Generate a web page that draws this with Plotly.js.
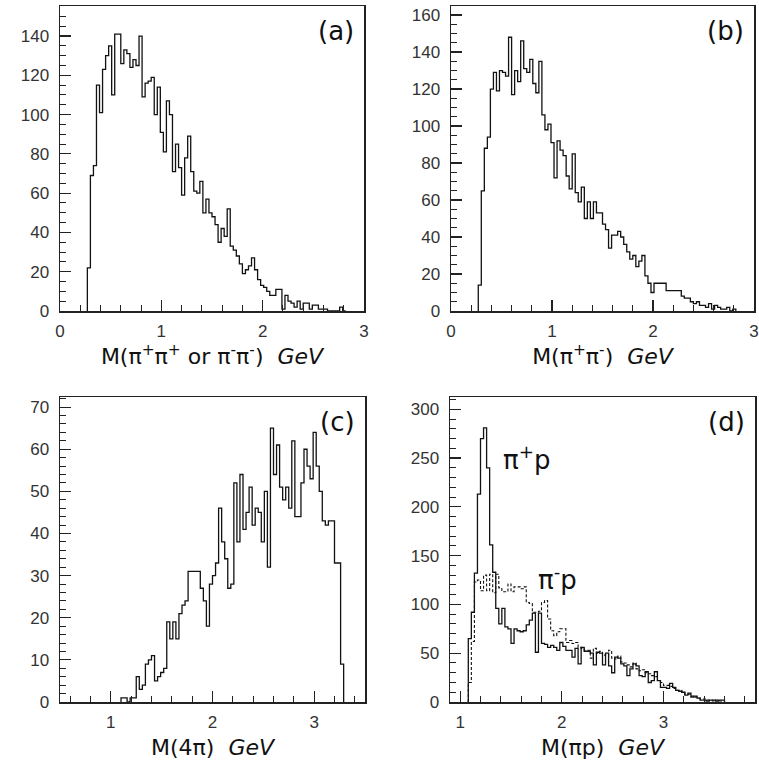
<!DOCTYPE html>
<html>
<head>
<meta charset="utf-8">
<script src="https://cdn.plot.ly/plotly-3.0.1.min.js"></script>
<style>html,body{margin:0;padding:0;background:#fff}#chart{width:759px;height:766px}</style>
</head>
<body>
<div id="chart"></div>
<script>
// ---- data: histogram bin width (GeV) and counts per bin ----
const binWidth = 0.03;

// (a) M(pi+pi+ or pi-pi-)
const aStart = 0.27;
const aCounts = [22,69,74,115,101,123,130,135,110,141,141,126,133,131,124,128,125,140,109,116,
  117,119,100,114,91,81,107,100,71,85,73,59,78,89,71,61,60,66,50,57,
  50,48,44,35,42,38,52,33,31,28,24,19,21,23,27,21,16,13,12,10,
  8,8,11,11,1,8,5,4,2,5,1,4,4,1,3,3,1,1,1,0,
  0,0,0,2,0];

// (b) M(pi+pi-)
const bStart = 0.27;
const bCounts = [14,65,88,94,120,129,119,130,129,127,148,117,130,124,146,131,129,136,123,118,
  135,106,98,101,91,72,92,87,84,73,66,85,64,59,67,50,59,50,59,53,
  53,47,44,34,41,41,43,40,36,32,28,30,24,27,30,19,15,10,15,15,
  15,15,11,11,11,11,11,8,7,7,5,4,5,3,3,2,4,1,3,2,
  1,1,2,0,1];

// (c) M(4pi)
const cStart = 1.10;
const cCounts = [1,1,0,1,1,6,3,4,9,10,11,5,6,7,8,19,15,19,15,21,
  23,24,31,31,31,31,27,24,18,28,30,33,46,38,34,27,28,52,38,54,
  41,45,51,42,46,45,38,50,32,65,54,61,51,48,51,46,62,44,44,52,
  60,56,53,64,56,50,43,42,43,43,33,33,9];

// (d) M(pi p): pi+ p (solid) and pi- p (dashed)
const dStart = 1.08;
const dPipCounts = [65,92,132,213,270,281,240,161,133,96,80,96,77,75,60,75,73,72,73,79,
  84,91,51,91,60,59,56,58,56,53,61,57,53,53,46,55,39,56,52,52,
  50,38,51,50,38,50,37,30,46,45,39,37,27,34,39,37,27,26,31,20,
  22,31,22,15,15,14,19,15,12,11,10,7,9,5,6,4,2,2,1,2,
  2,1,2,2];
const dPimCounts = [20,62,123,125,114,130,114,131,112,131,117,113,113,121,113,118,118,116,118,102,
  101,92,92,93,102,104,85,73,68,72,75,75,61,63,60,61,56,55,53,53,
  45,55,50,52,48,47,53,45,44,47,41,40,38,36,40,34,32,33,30,29,
  27,26,22,20,17,17,16,14,12,12,10,8,8,6,5,4,3,3,2,2,
  1,2,1,1];

const panelLabels = ['(a)','(b)','(c)','(d)'];
const xTitles = [
  'M(π<sup>+</sup>π<sup>+</sup> or π<sup>-</sup>π<sup>-</sup>)  <i>GeV</i>',
  'M(π<sup>+</sup>π<sup>-</sup>)  <i>GeV</i>',
  'M(4π)  <i>GeV</i>',
  'M(πp)  <i>GeV</i>'
];
const seriesNames = ['π<sup>+</sup>p', 'π<sup>-</sup>p'];

// ---- build step outlines from bins ----
function steps(start, counts) {
  const x = [start], y = [0];
  counts.forEach((c, i) => { x.push(start + i * binWidth); y.push(c); });
  x.push(start + counts.length * binWidth); y.push(0);
  return {x, y};
}

const lineStyle = {color: '#111', width: 1.3, shape: 'hv'};
function trace(start, counts, xa, ya, dash) {
  const s = steps(start, counts);
  return {type: 'scatter', mode: 'lines', x: s.x, y: s.y, xaxis: xa, yaxis: ya,
    line: Object.assign({}, lineStyle, dash ? {dash: '3px,2px', width: 1.1} : {}),
    hoverinfo: 'skip', showlegend: false};
}

const data = [
  trace(aStart, aCounts, 'x', 'y'),
  trace(bStart, bCounts, 'x2', 'y2'),
  trace(cStart, cCounts, 'x3', 'y3'),
  trace(dStart, dPimCounts, 'x4', 'y4', true),
  trace(dStart, dPipCounts, 'x4', 'y4')
];

const W = 759, H = 766;
const tickFont = {family: 'Liberation Sans, Arial, sans-serif', size: 17, color: '#333'};
const titleFont = {family: 'DejaVu Sans, sans-serif', size: 22, color: '#111'};
const labelFont = {family: 'DejaVu Sans, sans-serif', size: 26, color: '#111'};

function xax(px0, px1, range, anchor) {
  return {domain: [px0 / W, px1 / W], range: range, anchor: anchor,
    showline: true, mirror: true, linecolor: '#222', linewidth: 1.5,
    ticks: 'inside', ticklen: 11, tickwidth: 1.2, tickcolor: '#222', dtick: 1, tick0: 0,
    minor: {dtick: 0.2, tick0: 0, ticks: 'inside', ticklen: 6, tickwidth: 1, tickcolor: '#222'},
    showgrid: false, zeroline: false, tickfont: tickFont, ticklabelstandoff: 4};
}
function yax(py0, py1, range, dtick, minor, anchor) {
  return {domain: [1 - py1 / H, 1 - py0 / H], range: range, anchor: anchor,
    showline: true, mirror: true, linecolor: '#222', linewidth: 1.5,
    ticks: 'inside', ticklen: 11, tickwidth: 1.2, tickcolor: '#222', dtick: dtick, tick0: 0,
    minor: {dtick: minor, tick0: 0, ticks: 'inside', ticklen: 6, tickwidth: 1, tickcolor: '#222'},
    showgrid: false, zeroline: false, tickfont: tickFont, ticklabelstandoff: 6};
}

function panelLabel(i, xa, ya) {
  return {xref: xa + ' domain', yref: ya + ' domain', x: 0.975, y: 0.975, xanchor: 'right', yanchor: 'top',
    text: panelLabels[i], showarrow: false, font: labelFont};
}

const layout = {
  width: W, height: H, margin: {l: 0, r: 0, t: 0, b: 0},
  paper_bgcolor: '#fff', plot_bgcolor: '#fff', showlegend: false,
  xaxis: Object.assign(xax(60, 364, [0, 3], 'y'), {title: {text: xTitles[0], font: titleFont, standoff: 8}}),
  yaxis: yax(6, 311, [0, 155.3], 20, 5, 'x'),
  xaxis2: Object.assign(xax(451, 754, [0, 3], 'y2'), {title: {text: xTitles[1], font: titleFont, standoff: 8}}),
  yaxis2: yax(6, 311, [0, 164.9], 20, 5, 'x2'),
  xaxis3: Object.assign(xax(60, 365, [0.5, 3.5], 'y3'), {title: {text: xTitles[2], font: titleFont, standoff: 8}}),
  yaxis3: yax(397, 702, [0, 72.4], 10, 2, 'x3'),
  xaxis4: Object.assign(xax(450, 755, [0.9, 3.9], 'y4'), {title: {text: xTitles[3], font: titleFont, standoff: 8}}),
  yaxis4: yax(397, 702, [0, 312.6], 50, 10, 'x4'),
  annotations: [
    panelLabel(0, 'x', 'y'), panelLabel(1, 'x2', 'y2'), panelLabel(2, 'x3', 'y3'), panelLabel(3, 'x4', 'y4'),
    {xref: 'x4', yref: 'y4', x: 1.65, y: 250, text: seriesNames[0], showarrow: false, font: labelFont},
    {xref: 'x4', yref: 'y4', x: 1.96, y: 127, text: seriesNames[1], showarrow: false, font: labelFont}
  ]
};

Plotly.newPlot('chart', data, layout, {staticPlot: true, displayModeBar: false});
</script>
</body>
</html>
